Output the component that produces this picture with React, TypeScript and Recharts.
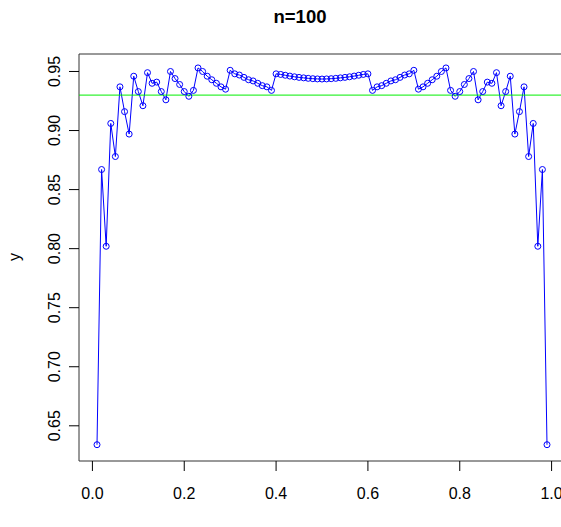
import { LineChart, Line, XAxis, YAxis, ReferenceLine, ReferenceArea } from "recharts";

// success probability grid
const pValues = [
  0.01, 0.02, 0.03, 0.04, 0.05, 0.06, 0.07, 0.08, 0.09, 0.1,
  0.11, 0.12, 0.13, 0.14, 0.15, 0.16, 0.17, 0.18, 0.19, 0.2,
  0.21, 0.22, 0.23, 0.24, 0.25, 0.26, 0.27, 0.28, 0.29, 0.3,
  0.31, 0.32, 0.33, 0.34, 0.35, 0.36, 0.37, 0.38, 0.39, 0.4,
  0.41, 0.42, 0.43, 0.44, 0.45, 0.46, 0.47, 0.48, 0.49, 0.5,
  0.51, 0.52, 0.53, 0.54, 0.55, 0.56, 0.57, 0.58, 0.59, 0.6,
  0.61, 0.62, 0.63, 0.64, 0.65, 0.66, 0.67, 0.68, 0.69, 0.7,
  0.71, 0.72, 0.73, 0.74, 0.75, 0.76, 0.77, 0.78, 0.79, 0.8,
  0.81, 0.82, 0.83, 0.84, 0.85, 0.86, 0.87, 0.88, 0.89, 0.9,
  0.91, 0.92, 0.93, 0.94, 0.95, 0.96, 0.97, 0.98, 0.99,
];

// coverage
const coverage = [
  0.634, 0.867, 0.802, 0.906, 0.878, 0.937, 0.916, 0.897, 0.946, 0.933,
  0.921, 0.949, 0.94, 0.941, 0.933, 0.926, 0.95, 0.944, 0.939, 0.933,
  0.929, 0.934, 0.953, 0.95, 0.946, 0.943, 0.94, 0.937, 0.935, 0.951,
  0.948, 0.947, 0.945, 0.943, 0.942, 0.94, 0.938, 0.937, 0.934, 0.948,
  0.9475, 0.9468, 0.9461, 0.9455, 0.945, 0.9446, 0.9442, 0.9439, 0.9437, 0.9436,
  0.9437, 0.9439, 0.9442, 0.9446, 0.945, 0.9455, 0.9461, 0.9468, 0.9475, 0.948,
  0.934, 0.937, 0.938, 0.94, 0.942, 0.943, 0.945, 0.947, 0.948, 0.951,
  0.935, 0.937, 0.94, 0.943, 0.946, 0.95, 0.953, 0.934, 0.929, 0.933,
  0.939, 0.944, 0.95, 0.926, 0.933, 0.941, 0.94, 0.949, 0.921, 0.933,
  0.946, 0.897, 0.916, 0.937, 0.878, 0.906, 0.802, 0.867, 0.634,
];

const xTicks = [0, 0.2, 0.4, 0.6, 0.8, 1.0];
const yTicks = [0.65, 0.7, 0.75, 0.8, 0.85, 0.9, 0.95];
const targetLevel = 0.93;

const X_MIN = -0.0292;
const X_MAX = 1.0292;
const Y_MIN = 0.6202;
const Y_MAX = 0.9648;

const data = pValues.map((p, i) => ({ p, y: coverage[i] }));

const font = "'Liberation Sans', Arial, sans-serif";

const XTick = (props: any) => {
  const { x, y, payload } = props;
  return (
    <text x={x} y={y + 26} textAnchor="middle" fontSize={16} fontFamily={font} fill="#000">
      {payload.value.toFixed(1)}
    </text>
  );
};

const YTick = (props: any) => {
  const { x, y, payload } = props;
  return (
    <text
      transform={`translate(${x - 7},${y}) rotate(-90)`}
      textAnchor="middle"
      fontSize={16}
      fontFamily={font}
      fill="#000"
    >
      {payload.value.toFixed(2)}
    </text>
  );
};

export default function App() {
  return (
    <div
      style={{
        position: "fixed",
        left: 0,
        top: 0,
        width: 561,
        height: 527,
        overflow: "hidden",
        background: "#fff",
      }}
    >
      <LineChart width={566} height={527} data={data} margin={{ top: 54, right: 1, bottom: 0, left: 0 }}>
        <XAxis
          dataKey="p"
          type="number"
          domain={[X_MIN, X_MAX]}
          ticks={xTicks}
          allowDataOverflow
          axisLine={false}
          tickSize={10}
          tickLine={{ stroke: "#000" }}
          tick={<XTick />}
          height={66}
        />
        <YAxis
          type="number"
          domain={[Y_MIN, Y_MAX]}
          ticks={yTicks}
          allowDataOverflow
          axisLine={false}
          tickSize={10}
          tickLine={{ stroke: "#000" }}
          tick={<YTick />}
          width={79}
        />
        <ReferenceArea x1={X_MIN} x2={X_MAX} y1={Y_MIN} y2={Y_MAX} fill="none" stroke="#333" strokeWidth={1} />
        <Line
          type="linear"
          dataKey="y"
          stroke="#0000ff"
          strokeWidth={1}
          dot={{ r: 3, stroke: "#0000ff", strokeWidth: 1, fill: "none" }}
          isAnimationActive={false}
        />
        <ReferenceLine y={targetLevel} stroke="#00ee00" strokeWidth={1} />
      </LineChart>
      <svg width={561} height={527} style={{ position: "absolute", left: 0, top: 0, pointerEvents: "none" }}>
        <text x={300} y={23} textAnchor="middle" fontSize={18.5} fontWeight="bold" fontFamily={font} fill="#000">
          n=100
        </text>
        <text transform="translate(20,257) rotate(-90)" textAnchor="middle" fontSize={16} fontFamily={font} fill="#000">
          y
        </text>
      </svg>
    </div>
  );
}
